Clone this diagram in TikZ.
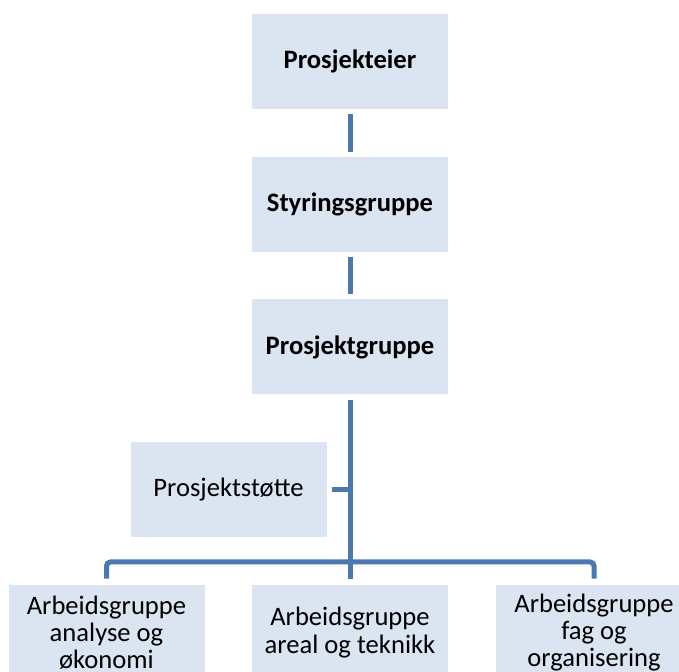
\documentclass[tikz,border=0pt]{standalone}
\usepackage{fontspec}
\setmainfont{Carlito}
\usepackage{tikz}
\usetikzlibrary{positioning}
\definecolor{boxfill}{HTML}{DBE5F1}
\definecolor{linjeblaa}{HTML}{4A78B0}
\tikzset{
  boks/.style={fill=boxfill,minimum width=98pt,minimum height=47.5pt,align=center,
    inner sep=0pt,font=\fontsize{13.3}{13.6}\selectfont},
  fetboks/.style={boks,font=\fontsize{13.3}{13.6}\selectfont\bfseries},
  linje/.style={draw=linjeblaa,line width=2.5pt,shorten <=2.5pt,shorten >=2.5pt}
}
\begin{document}
\begin{tikzpicture}[x=0.5pt,y=-0.5pt]
\clip (0,0) rectangle (679,672);
\node[fetboks] (eier) at (350,61.5) {Prosjekteier};
\node[fetboks] (styr) at (350,204.5) {Styringsgruppe};
\node[fetboks] (pgruppe) at (350,347) {Prosjektgruppe};
\node[boks] (stotte) at (228.5,489.5) {Prosjektstøtte};
\node[boks] (ag1) at (106.5,632.5) {Arbeidsgruppe\\analyse og\\økonomi};
\node[boks] (ag2) at (350,632.5) {Arbeidsgruppe\\areal og teknikk};
\node[boks] (ag3) at (594,632.5) {Arbeidsgruppe\\fag og\\organisering};
\coordinate (skinne) at (350,562);
% linjer
\draw[linje] (eier) -- (styr);
\draw[linje] (styr) -- (pgruppe);
\draw[linje,shorten >=3pt] (pgruppe) -- (ag2);
\draw[linje,shorten >=0pt] (stotte) -- (stotte -| pgruppe);
\draw[linje,rounded corners=2pt,shorten <=3pt,shorten >=3pt] (ag1.north) |- (skinne) -| (ag3.north);
\end{tikzpicture}
\end{document}
